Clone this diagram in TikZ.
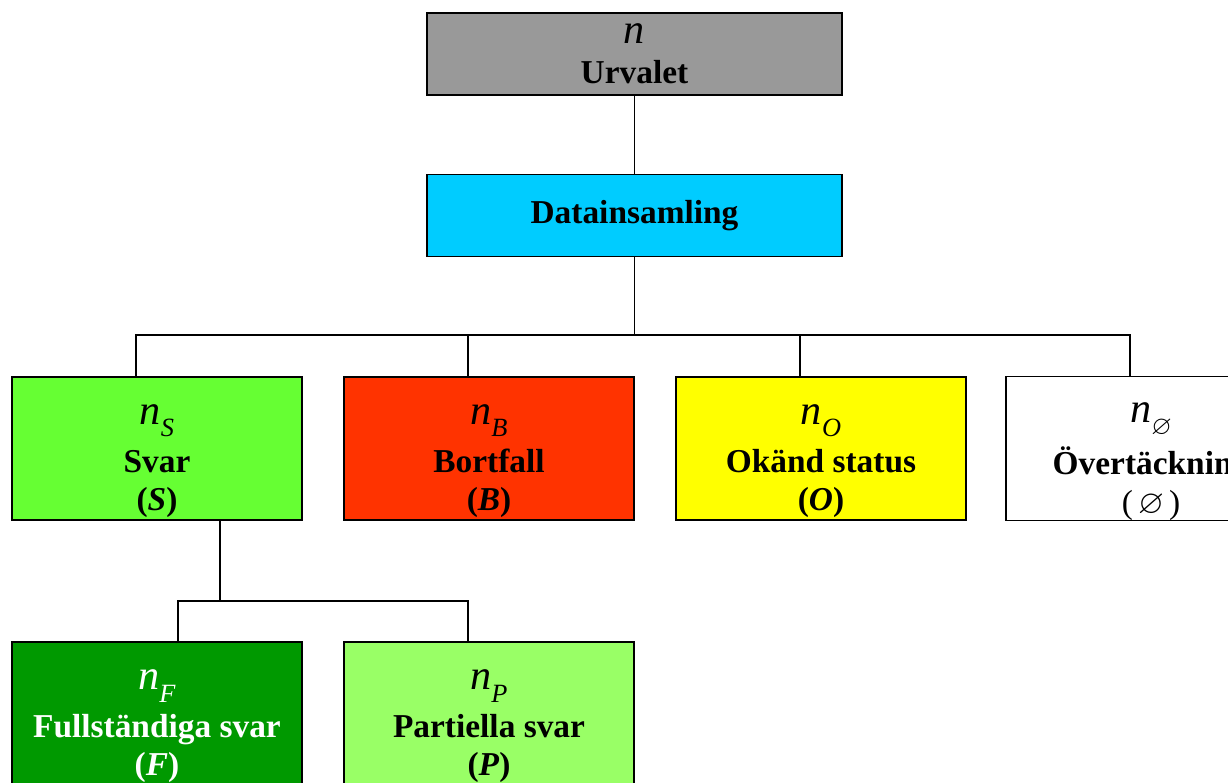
\documentclass[tikz,border=0pt]{standalone}
\usepackage{fontspec}
\usepackage{amssymb}
\setmainfont{Liberation Serif}
\usetikzlibrary{calc}
\definecolor{urvgray}{HTML}{999999}
\definecolor{datcyan}{HTML}{00CCFF}
\definecolor{svargreen}{HTML}{66FF33}
\definecolor{bortred}{HTML}{FF3300}
\definecolor{okyellow}{HTML}{FFFF00}
\definecolor{fullgreen}{HTML}{009900}
\definecolor{partgreen}{HTML}{99FF66}
% italic n with a lowered index
\newcommand{\nidx}[1]{{\mdseries\fontsize{24}{24}\selectfont\itshape n}%
  \raisebox{-0.8ex}{\mdseries\fontsize{15}{15}\selectfont\itshape #1}}
\newcommand{\nstrut}{\rule{0pt}{26pt}}
\tikzset{
  topbox/.style={rectangle, draw=black, line width=0.8pt,
    minimum width=8.3cm, minimum height=1.64cm,
    font=\fontsize{19}{23}\selectfont\bfseries, align=center, inner sep=0pt},
  catbox/.style={rectangle, draw=black, line width=0.8pt,
    minimum width=5.8cm, minimum height=2.86cm,
    font=\fontsize{19}{22}\selectfont\bfseries, align=center, inner sep=0pt},
  link/.style={line width=0.8pt}
}

\begin{document}
\begin{tikzpicture}[x=0.02cm, y=-0.02cm]
\clip (0,0) rectangle (1228,783);
\useasboundingbox (0,0) rectangle (1228,783);

%% ── Top boxes ──────────────────────────────────────────
\node[topbox, fill=urvgray] (urval) at (634.5, 54)   {\nidx{}\\Urvalet};
\node[topbox, fill=datcyan] (data)  at (634.5, 215.5) {Datainsamling};

%% ── Categories ─────────────────────────────────────────
\node[catbox, fill=svargreen] (svar)  at ( 157, 448.5) {\nstrut\nidx{S}\\[5pt]Svar\\(\textit{S})};
\node[catbox, fill=bortred]   (bort)  at ( 489, 448.5) {\nstrut\nidx{B}\\[5pt]Bortfall\\(\textit{B})};
\node[catbox, fill=okyellow]  (okand) at ( 821, 448.5) {\nstrut\nidx{O}\\[5pt]Okänd status\\(\textit{O})};
\node[catbox, fill=white]     (over)  at (1151, 448.5) {\nstrut\nidx{$\varnothing$}\\[5pt]Övertäckning\\\mdseries($\,\varnothing\,$)};

%% ── Answers ────────────────────────────────────────────
\node[catbox, fill=fullgreen, text=white] (full) at (157, 713.5) {\nstrut\nidx{F}\\[5pt]Fullständiga svar\\(\textit{F})};
\node[catbox, fill=partgreen]             (part) at (489, 713.5) {\nstrut\nidx{P}\\[5pt]Partiella svar\\(\textit{P})};

%% ── Connections ────────────────────────────────────────
\draw[link] (urval.south) -- (data.north);

% Datainsamling –– four categories
\coordinate (bus) at (634.5, 335);
\draw[link] (data.south) -- (bus);
\foreach \b in {svar, bort, okand, over}
  \draw[link] ($(\b.north)+(-21,0)$) |- (bus);

% Svar –– full / partial
\coordinate (subbus) at (220, 601);
\draw[link] (svar.south -| subbus) -- (subbus);
\draw[link] ($(full.north)+(21,0)$) |- (subbus);
\draw[link] ($(part.north)+(-21,0)$) |- (subbus);

\end{tikzpicture}
\end{document}
